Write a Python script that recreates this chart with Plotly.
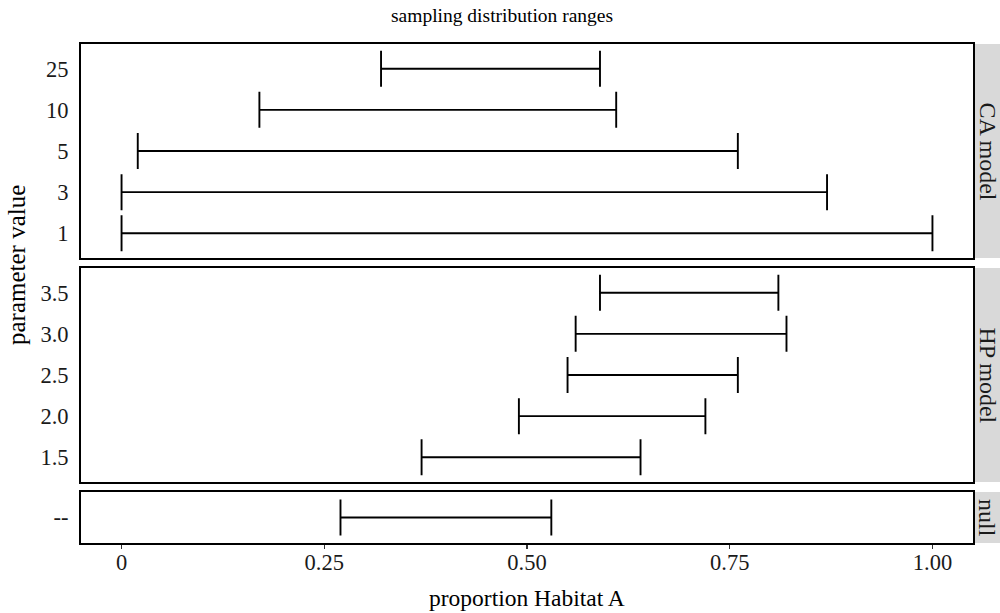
import plotly.graph_objects as go

# ---- data ----
ca_params = ["1", "3", "5", "10", "25"]
ca_low = [0.00, 0.00, 0.02, 0.17, 0.32]
ca_high = [1.00, 0.87, 0.76, 0.61, 0.59]

hp_params = ["1.5", "2.0", "2.5", "3.0", "3.5"]
hp_low = [0.37, 0.49, 0.55, 0.56, 0.59]
hp_high = [0.64, 0.72, 0.76, 0.82, 0.81]

null_params = ["--"]
null_low = [0.27]
null_high = [0.53]

panel_labels = ["CA model", "HP model", "null"]
x_tickvals = [0, 0.25, 0.50, 0.75, 1.00]
x_ticktext = ["0", "0.25", "0.50", "0.75", "1.00"]

FONT = "Liberation Serif"
W, H = 1000, 613
L, T = 81, 44
R = W - 973
B = H - 543
pw = W - L - R
ph = H - T - B

def frac(px):
    return px / ph

# panel domains (pixels from bottom of plot area)
null_dom = [0, frac(51)]
hp_dom = [frac(61), frac(275)]
ca_dom = [frac(285), 1.0]

fig = go.Figure()

def add_ranges(params, lo, hi, xa, ya):
    mids = [(a + b) / 2 for a, b in zip(lo, hi)]
    half = [(b - a) / 2 for a, b in zip(lo, hi)]
    fig.add_trace(go.Scatter(
        x=mids, y=params, mode="markers",
        marker=dict(color="rgba(0,0,0,0)", size=1),
        error_x=dict(type="data", array=half, symmetric=True,
                     color="black", thickness=1.9, width=18),
        xaxis=xa, yaxis=ya, showlegend=False, hoverinfo="skip"))

add_ranges(ca_params, ca_low, ca_high, "x", "y")
add_ranges(hp_params, hp_low, hp_high, "x2", "y2")
add_ranges(null_params, null_low, null_high, "x3", "y3")

TICKFONT = dict(family=FONT, size=22.5, color="#1a1a1a")
common_x = dict(range=[-0.05, 1.05], showgrid=False, zeroline=False,
                showline=True, mirror=True, linecolor="black", linewidth=1.9,
                tickvals=x_tickvals, ticktext=x_ticktext)
common_y = dict(type="category", showgrid=False, zeroline=False,
                showline=True, mirror=True, linecolor="black", linewidth=1.9,
                ticks="", ticklabelstandoff=6, tickfont=TICKFONT)

fig.update_layout(
    width=W, height=H,
    margin=dict(l=L, r=R, t=T, b=B),
    paper_bgcolor="white", plot_bgcolor="white",
    font=dict(family=FONT, size=20, color="black"),
    hovermode=False,
    xaxis=dict(common_x, anchor="y", showticklabels=False, ticks="", matches="x3"),
    xaxis2=dict(common_x, anchor="y2", showticklabels=False, ticks="", matches="x3"),
    xaxis3=dict(common_x, anchor="y3", showticklabels=True, ticks="outside",
                ticklen=4, tickwidth=1.5, tickcolor="#333333",
                ticklabelstandoff=-6, tickfont=TICKFONT),
    yaxis=dict(common_y, domain=ca_dom, anchor="x", categoryarray=ca_params,
               categoryorder="array", range=[-0.6, 4.6]),
    yaxis2=dict(common_y, domain=hp_dom, anchor="x2", categoryarray=hp_params,
                categoryorder="array", range=[-0.6, 4.6]),
    yaxis3=dict(common_y, domain=null_dom, anchor="x3", categoryarray=null_params,
                categoryorder="array", range=[-0.6, 0.6]),
)

strip_x1 = 1 + R / pw
for lab, yref in zip(panel_labels, ["y domain", "y2 domain", "y3 domain"]):
    fig.add_shape(type="rect", xref="paper", yref=yref,
                  x0=1.0 + 1 / pw, x1=strip_x1, y0=0, y1=1,
                  fillcolor="#d9d9d9", line=dict(width=0), layer="below")
    fig.add_annotation(text=lab, xref="paper", yref=yref,
                       x=1 + (R / 2 + 1) / pw, y=0.5, showarrow=False,
                       textangle=90, xanchor="center", yanchor="middle",
                       font=dict(family=FONT, size=24, color="#1a1a1a"))

# title (pixel centre x=502, y=15)
fig.add_annotation(text="sampling distribution ranges", xref="paper", yref="paper",
                   x=(502 - L) / pw, y=1 + (T - 15) / ph, showarrow=False,
                   xanchor="center", yanchor="middle",
                   font=dict(family=FONT, size=19.5, color="black"))
# x axis title (pixel centre y=598)
fig.add_annotation(text="proportion Habitat A", xref="paper", yref="paper",
                   x=0.5, y=-(598 - (H - B)) / ph, showarrow=False,
                   xanchor="center", yanchor="middle",
                   font=dict(family=FONT, size=23.5, color="black"))
# y axis title (pixel centre x=16, y=265)
fig.add_annotation(text="parameter value", xref="paper", yref="paper",
                   x=-(L - 16) / pw, y=1 - (265 - T) / ph,
                   showarrow=False, textangle=-90,
                   xanchor="center", yanchor="middle",
                   font=dict(family=FONT, size=25, color="black"))

fig.write_html(
    "out.html",
    config={"displayModeBar": False, "staticPlot": True},
    post_script="document.body.style.margin='0';"
                "document.body.style.overflow='hidden';"
                "document.documentElement.style.overflow='hidden';",
)
